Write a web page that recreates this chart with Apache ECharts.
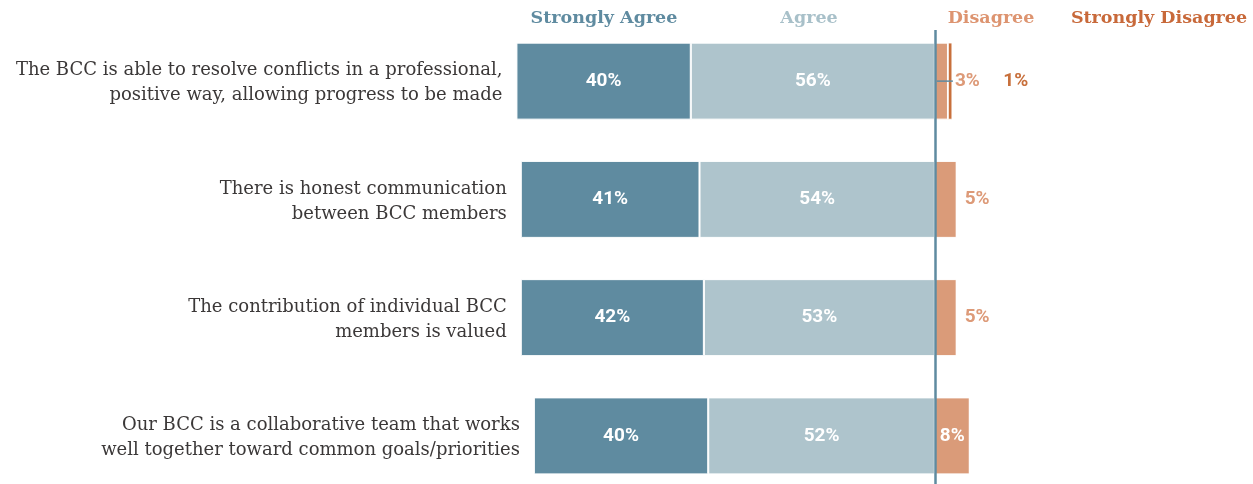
<!DOCTYPE html>
<html>
<head>
<meta charset="utf-8">
<script src="https://cdn.jsdelivr.net/npm/echarts@6/dist/echarts.min.js"></script>
<style>
  html, body { margin: 0; padding: 0; background: #ffffff; }
  #chart { width: 1253px; height: 484px; }
</style>
</head>
<body>
<div id="chart"></div>
<script>
// Survey statements (top to bottom)
const categories = [
  'The BCC is able to resolve conflicts in a professional,\npositive way, allowing progress to be made',
  'There is honest communication\nbetween BCC members',
  'The contribution of individual BCC\nmembers is valued',
  'Our BCC is a collaborative team that works\nwell together toward common goals/priorities'
];

// Response shares, percent
const stronglyAgree    = [40, 41, 42, 40];
const agree            = [56, 54, 53, 52];
const disagree         = [3, 5, 5, 8];
const stronglyDisagree = [1, 0, 0, 0];

const headers = ['Strongly Agree', 'Agree', 'Disagree', 'Strongly Disagree'];

const COLORS = {
  sa: '#5f8ba0',
  a: '#aec4cc',
  d: '#da9b79',
  sd: '#c8703c',
  zero: '#5f8ba0',
  text: '#3b3838'
};

const VALUE_FONT = 'Roboto, "Liberation Sans", Arial, sans-serif';
const SERIF_FONT = '"DejaVu Serif", "Liberation Serif", serif';

const X_MIN = -100, X_MAX = 70;
const GRID = { left: 499, right: 13, top: 22, height: 473 };

const pct = v => v + '%';

const insideLabel = {
  show: true,
  position: 'inside',
  color: '#ffffff',
  fontFamily: VALUE_FONT,
  fontWeight: 'bold',
  fontSize: 19,
  formatter: p => pct(Math.abs(p.value))
};

const outsideDisagreeText = {
  color: '#dd9a78',
  fontFamily: VALUE_FONT,
  fontWeight: 'bold',
  fontSize: 19
};

// Label for a Disagree segment: white inside wide segments, beside narrow ones;
// the thinnest segments get a short guide tick from the zero line.
function disagreeLabel(v) {
  if (v >= 6) return insideLabel;
  if (v <= 3) {
    return {
      show: true,
      position: 'insideLeft',
      distance: 2,
      formatter: p => '{ln|}{v|' + pct(p.value) + '}',
      rich: {
        ln: { width: 16, height: 1.5, backgroundColor: COLORS.zero },
        v: Object.assign({ padding: [0, 0, 0, 2] }, outsideDisagreeText)
      }
    };
  }
  return Object.assign({
    show: true,
    position: 'right',
    distance: 8,
    formatter: p => pct(p.value)
  }, outsideDisagreeText);
}

const barBase = {
  type: 'bar',
  stack: 'total',
  barWidth: 77,
  barGap: '-100%',
  animation: false,
  silent: true,
  itemStyle: { borderColor: '#ffffff', borderWidth: 1 }
};

const chart = echarts.init(document.getElementById('chart'), null, { renderer: 'canvas' });

chart.setOption({
  backgroundColor: '#ffffff',
  grid: [
    Object.assign({ outerBoundsMode: 'none', containLabel: false }, GRID),
    { left: GRID.left, right: GRID.right, top: 30, bottom: 0, outerBoundsMode: 'none' }
  ],
  xAxis: [
    { type: 'value', min: X_MIN, max: X_MAX, show: false, gridIndex: 0 },
    { type: 'value', min: X_MIN, max: X_MAX, show: false, gridIndex: 1 }
  ],
  yAxis: [
    { type: 'category', data: categories, inverse: true, show: false, gridIndex: 0 },
    { type: 'value', min: 0, max: 1, show: false, gridIndex: 1 }
  ],
  graphic: headers.map((h, i) => ({
    type: 'text',
    x: [604, 809, 991, 1159][i],
    y: 18,
    silent: true,
    style: {
      text: h,
      fill: [COLORS.sa, '#a8c0c9', '#dd9470', '#c8693a'][i],
      font: 'bold 17.5px ' + SERIF_FONT,
      textAlign: 'center',
      textVerticalAlign: 'middle'
    }
  })),
  series: [
    // Agree sits next to the zero line, Strongly Agree stacks outward
    Object.assign({}, barBase, {
      name: 'Agree',
      data: agree.map(v => -v),
      itemStyle: Object.assign({}, barBase.itemStyle, { color: COLORS.a }),
      label: insideLabel
    }),
    Object.assign({}, barBase, {
      name: 'Strongly Agree',
      data: stronglyAgree.map(v => -v),
      itemStyle: Object.assign({}, barBase.itemStyle, { color: COLORS.sa }),
      label: insideLabel
    }),
    Object.assign({}, barBase, {
      name: 'Disagree',
      data: disagree.map(v => ({ value: v, label: disagreeLabel(v) })),
      itemStyle: Object.assign({}, barBase.itemStyle, { color: COLORS.d })
    }),
    Object.assign({}, barBase, {
      name: 'Strongly Disagree',
      data: stronglyDisagree.map(v => ({
        value: v,
        label: {
          show: v > 0,
          position: 'right',
          distance: 51,
          color: COLORS.sd,
          fontFamily: VALUE_FONT,
          fontWeight: 'bold',
          fontSize: 19,
          formatter: p => pct(p.value)
        }
      })),
      itemStyle: Object.assign({}, barBase.itemStyle, { color: COLORS.sd, borderWidth: 0.8 })
    }),
    // Statement text, anchored to the outer end of each agreement bar
    {
      type: 'bar',
      name: 'statements',
      barWidth: 77,
      barGap: '-100%',
      animation: false,
      silent: true,
      z: 1,
      data: stronglyAgree.map((v, i) => -(v + agree[i])),
      itemStyle: { color: 'rgba(0,0,0,0)' },
      label: {
        show: true,
        position: 'left',
        distance: 14,
        offset: [0, 2],
        color: COLORS.text,
        fontFamily: SERIF_FONT,
        fontSize: 18,
        lineHeight: 25,
        align: 'right',
        formatter: p => categories[p.dataIndex]
      }
    },
    // Zero reference line
    {
      type: 'line',
      xAxisIndex: 1,
      yAxisIndex: 1,
      data: [],
      silent: true,
      animation: false,
      z: 10,
      markLine: {
        silent: true,
        animation: false,
        symbol: ['none', 'none'],
        label: { show: false },
        lineStyle: { color: COLORS.zero, width: 2.5, type: 'solid' },
        data: [{ xAxis: 0 }]
      }
    }
  ]
});
</script>
</body>
</html>
